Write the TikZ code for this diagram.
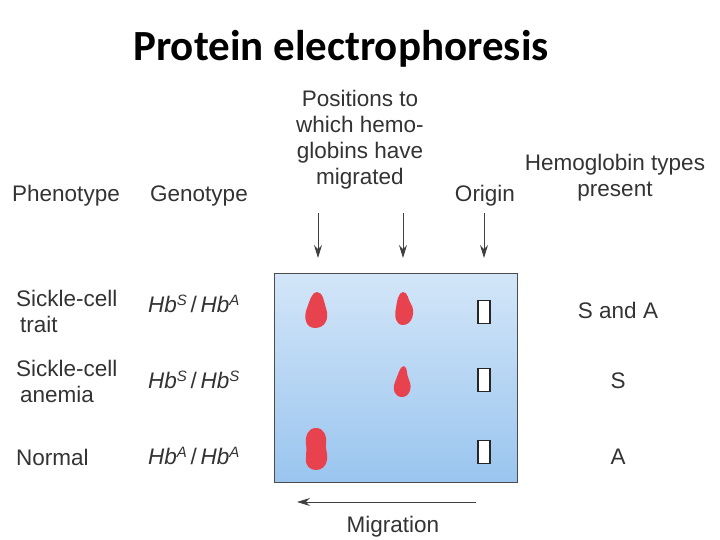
\documentclass[tikz,border=0pt]{standalone}
\usepackage{fontspec}
\usetikzlibrary{arrows.meta}
\setmainfont{Liberation Sans}
\newfontfamily\titlefont{Carlito}
\newcommand{\gsup}[1]{\raisebox{7pt}{\fontsize{15}{15}\selectfont\itshape #1}}
\begin{document}
\begin{tikzpicture}[x=1pt,y=-1pt,
  lbl/.style={font=\fontsize{22.5}{27}\selectfont, text=black!80, inner sep=0pt},
  ml/.style={lbl, align=center},
  lft/.style={lbl, align=left, anchor=west},
  arr/.style={-{Stealth[length=13pt,width=8pt]}, line width=1pt, black!75},
  well/.style={draw=black!85, fill=white, line width=1.3pt}]
\useasboundingbox (0,0) rectangle (720,540);
\definecolor{blobc}{HTML}{E8424F}
\definecolor{geltop}{HTML}{D3E6F8}
\definecolor{gelbot}{HTML}{9AC5EF}
\node[font=\titlefont\bfseries\fontsize{43}{48}\selectfont, inner sep=0pt] (title) at (341,49) {Protein electrophoresis};
\node[lft] (phen) at (12,196) {Phenotype};
\node[lft] (gen) at (150,196) {Genotype};
\node[ml, font=\fontsize{22.5}{26}\selectfont] (pos) at (360,140) {Positions to\\which hemo-\\globins have\\migrated};
\node[ml] (orig) at (485,196) {Origin};
\node[ml, font=\fontsize{22.5}{26}\selectfont] (types) at (615,178) {Hemoglobin types\\present};
% gel
\shade[top color=geltop, bottom color=gelbot] (274,273) rectangle (517,482);
\node[draw=black!70, line width=1pt, minimum width=243, minimum height=209, inner sep=0pt] (gel) at (395.5,377.5) {};
% arrows
\coordinate (a1) at (318,213); \coordinate (b1) at (318,258);
\coordinate (a2) at (403,213); \coordinate (b2) at (403,258);
\coordinate (a3) at (484,213); \coordinate (b3) at (484,258);
\draw[arr] (a1) -- (b1); \draw[arr] (a2) -- (b2); \draw[arr] (a3) -- (b3);
% rows
\node[lft, align=left, font=\fontsize{22.5}{26}\selectfont] (r1) at (16,311) {Sickle-cell\\\hspace*{4pt}trait};
\node[lft, align=left, font=\fontsize{22.5}{26}\selectfont] (r2) at (16,381) {Sickle-cell\\\hspace*{4pt}anemia};
\node[lft] (r3) at (16,457) {Normal};
\node[lft] (g1) at (148,304) {\textit{Hb}\gsup{S}\,/\,\textit{Hb}\gsup{A}};
\node[lft] (g2) at (148,380) {\textit{Hb}\gsup{S}\,/\,\textit{Hb}\gsup{S}};
\node[lft] (g3) at (148,456) {\textit{Hb}\gsup{A}\,/\,\textit{Hb}\gsup{A}};
\node[ml] (t1) at (618,310) {S and A};
\node[ml] (t2) at (618,381) {S};
\node[ml] (t3) at (618,457) {A};
% wells
\node[well, minimum width=12, minimum height=23, inner sep=0pt] (w1) at (484,312) {};
\node[well, minimum width=12, minimum height=23, inner sep=0pt] (w2) at (484,380) {};
\node[well, minimum width=12, minimum height=23, inner sep=0pt] (w3) at (484,452) {};
% blobs
\fill[blobc] (317,292) .. controls (323,292) and (324,302) .. (326,308) .. controls (330,320) and (324,328) .. (315,328) .. controls (306,328) and (303,318) .. (307,308) .. controls (310,300) and (312,292) .. (317,292) -- cycle;
\fill[blobc] (403,292) .. controls (408,292) and (408,300) .. (411,304) .. controls (416,312) and (412,325) .. (403,325) .. controls (396,325) and (394,317) .. (396,308) .. controls (397,300) and (399,292) .. (403,292) -- cycle;
\fill[blobc] (404,366) .. controls (408,368) and (406,374) .. (409,380) .. controls (413,388) and (409,397) .. (402,397) .. controls (395,397) and (392,390) .. (395,382) .. controls (398,375) and (400,366) .. (404,366) -- cycle;
\fill[blobc] (316,428) .. controls (324,428) and (327,436) .. (326,444) .. controls (325,449) and (328,452) .. (327,460) .. controls (326,467) and (321,470) .. (316,470) .. controls (310,470) and (305,466) .. (306,458) .. controls (306,452) and (307,449) .. (306,444) .. controls (305,436) and (308,428) .. (316,428) -- cycle;
% migration
\coordinate (m1) at (476,502); \coordinate (m2) at (297,502);
\draw[arr] (m1) -- (m2);
\node[ml] (mig) at (393,527) {Migration};
\end{tikzpicture}
\end{document}
